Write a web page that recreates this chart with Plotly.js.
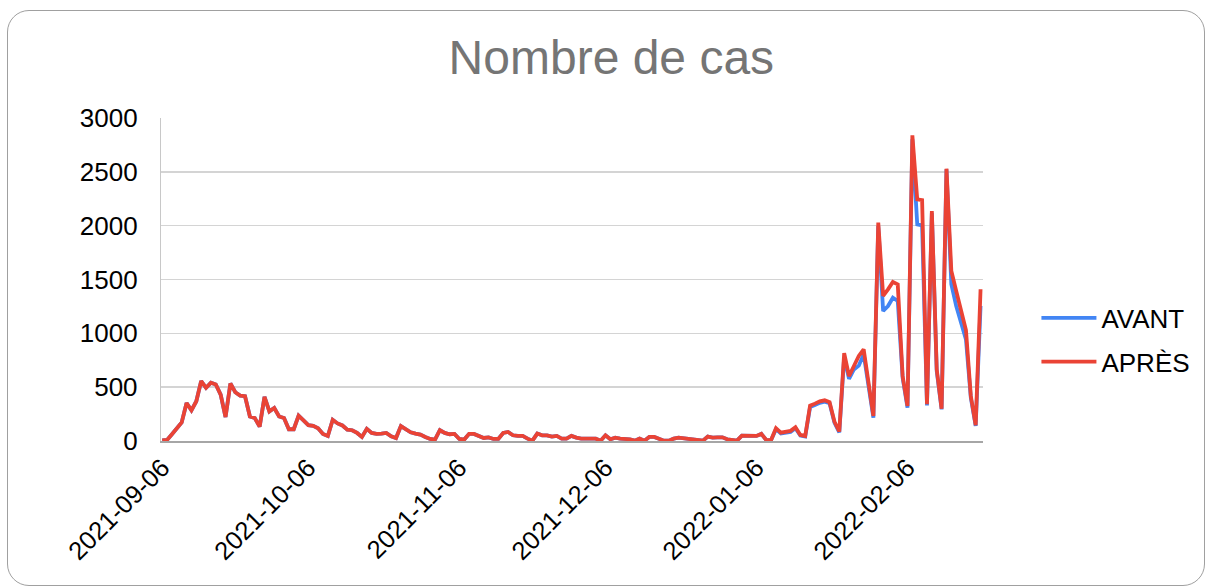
<!DOCTYPE html>
<html>
<head>
<meta charset="utf-8">
<script src="https://cdn.plot.ly/plotly-3.0.1.min.js"></script>
<style>
  html, body { margin: 0; padding: 0; background: #ffffff; }
  #wrap { position: relative; width: 1213px; height: 588px; overflow: hidden; }
  #chart { position: absolute; left: 0; top: 0; width: 1213px; height: 588px; }
  #frame { position: absolute; left: 7px; top: 10px; width: 1196px; height: 574px;
           border: 1.5px solid #a0a0a0; border-radius: 22px; pointer-events: none; }
</style>
</head>
<body>
<div id="wrap">
  <div id="chart"></div>
  <div id="frame"></div>
</div>
<script>
// Daily series, first day 2021-09-06
const startDate = '2021-09-06';
const seriesNames = ['AVANT', 'APRÈS'];
const tickLabelsFormat = '%Y-%m-%d';

const apres = [
  5, 10, 63, 119, 172, 353, 285, 369, 557, 494,
  541, 525, 431, 222, 535, 453, 422, 416, 228, 213,
  134, 410, 275, 306, 228, 213, 109, 109, 235, 191,
  147, 141, 119, 66, 47, 197, 163, 144, 106, 100,
  75, 38, 113, 75, 66, 69, 75, 44, 28, 138,
  106, 81, 69, 59, 38, 19, 13, 100, 75, 63,
  66, 19, 13, 66, 66, 44, 28, 34, 19, 19,
  75, 84, 53, 47, 47, 22, 3, 69, 53, 53,
  41, 47, 22, 22, 47, 31, 22, 22, 22, 22,
  3, 53, 16, 31, 22, 22, 16, 3, 22, 3,
  38, 38, 16, 3, 3, 22, 31, 25, 16, 13,
  8, 3, 41, 31, 34, 34, 16, 12, 3, 50,
  47, 47, 47, 66, 9, 9, 119, 78, 84, 94,
  128, 56, 47, 328, 347, 369, 378, 360, 181, 88,
  816, 603, 697, 790, 851, 511, 232, 2028, 1347, 1409,
  1477, 1455, 604, 325, 2839, 2245, 2238, 341, 2136, 666,
  300, 2529, 1579, 1393, 1192, 1031, 418, 146, 1409
];

const avant = [
  5, 10, 63, 119, 172, 353, 285, 369, 557, 494,
  541, 525, 431, 222, 535, 453, 422, 416, 228, 213,
  134, 410, 275, 306, 228, 213, 109, 109, 235, 191,
  147, 141, 119, 66, 47, 197, 163, 144, 106, 100,
  75, 38, 113, 75, 66, 69, 75, 44, 28, 138,
  106, 81, 69, 59, 38, 19, 13, 100, 75, 63,
  66, 19, 13, 66, 66, 44, 28, 34, 19, 19,
  75, 84, 53, 47, 47, 22, 3, 69, 53, 53,
  41, 47, 22, 22, 47, 31, 22, 22, 22, 22,
  3, 53, 16, 31, 22, 22, 16, 3, 22, 3,
  38, 38, 16, 3, 3, 22, 31, 25, 16, 13,
  8, 3, 41, 31, 34, 34, 16, 12, 3, 50,
  47, 47, 47, 66, 9, 9, 110, 70, 75, 85,
  118, 50, 42, 315, 335, 355, 365, 350, 170, 80,
  780, 578, 665, 700, 805, 480, 217, 1997, 1207, 1254,
  1331, 1300, 588, 310, 2802, 2012, 2003, 331, 2120, 650,
  294, 2523, 1455, 1254, 1084, 944, 402, 139, 1254
];

// consecutive daily dates
const dates = [];
(function () {
  const d0 = new Date(startDate + 'T00:00:00Z');
  for (let i = 0; i < apres.length; i++) {
    const d = new Date(d0.getTime() + i * 86400000);
    dates.push(d.toISOString().slice(0, 10));
  }
})();

const FONT = 'Liberation Sans, Arial, Helvetica, sans-serif';

const traces = [
  { x: dates, y: avant, name: seriesNames[0], type: 'scatter', mode: 'lines',
    legendgroup: 'g1', line: { color: '#4285F4', width: 3.8 } },
  { x: dates, y: apres, name: seriesNames[1], type: 'scatter', mode: 'lines',
    legendgroup: 'g2', line: { color: '#EA4335', width: 3.8 } }
];

const layout = {
  width: 1213, height: 588,
  margin: { l: 161, r: 230, t: 118, b: 147, pad: 0 },
  paper_bgcolor: '#ffffff', plot_bgcolor: '#ffffff',
  font: { family: FONT, color: '#000000', size: 26 },
  title: { text: 'Nombre de cas', font: { family: FONT, size: 48, color: '#757575' },
           xref: 'container', x: 0.504, xanchor: 'center',
           yref: 'container', y: 1 - 57 / 588, yanchor: 'middle' },
  xaxis: {
    type: 'date',
    range: ['2021-09-05 18:00', '2022-02-21 12:00'],
    tick0: '2021-09-06', dtick: 'M1', tickformat: tickLabelsFormat,
    tickangle: -45, showgrid: false, zeroline: false,
    showline: true, linecolor: '#a6a6a6', linewidth: 1.5,
    ticks: '', tickfont: { family: FONT, size: 25.5, color: '#000000' },
    fixedrange: true
  },
  yaxis: {
    range: [0, 3000], dtick: 500, tick0: 0,
    showgrid: true, gridcolor: '#d4d4d4', gridwidth: 1.5,
    zeroline: false, showline: true, linecolor: '#c8c8c8', linewidth: 1.2,
    ticks: '', ticklabelstandoff: 17,
    tickfont: { family: FONT, size: 26, color: '#000000' },
    fixedrange: true
  },
  showlegend: true,
  legend: {
    x: 1.065, xanchor: 'left', y: 0.3127, yanchor: 'middle',
    traceorder: 'grouped', tracegroupgap: 7,
    font: { family: FONT, size: 26, color: '#000000' },
    itemwidth: 55, bgcolor: 'rgba(0,0,0,0)', borderwidth: 0
  }
};

Plotly.newPlot('chart', traces, layout, { displayModeBar: false, staticPlot: true });
</script>
</body>
</html>
